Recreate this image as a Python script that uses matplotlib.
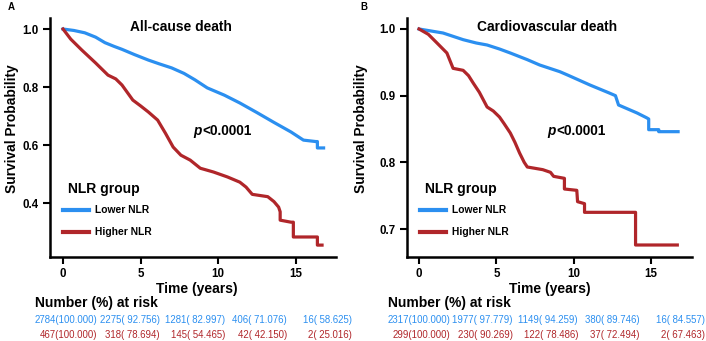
import matplotlib
matplotlib.use("Agg")
import matplotlib.pyplot as plt

plt.rcParams['font.family'] = ['Liberation Sans', 'DejaVu Sans']

BLUE = "#2b8ff0"
RED = "#b0262a"

# Panel A: all-cause death (time in years, survival probability)
# repeated times mark the visible vertical drops of the KM curves
a_low_t = [0, 0.7, 1.4, 2.1, 2.7, 3.3, 3.8, 4.6, 5.5, 6.2, 7.0, 7.8, 8.5, 9.3, 10.4,
           11.4, 12.5, 13.6, 14.7, 15.5, 16.3, 16.4, 16.4, 16.8]
a_low_s = [1.0, 0.995, 0.987, 0.972, 0.953, 0.940, 0.930, 0.912, 0.893, 0.880, 0.866,
           0.847, 0.825, 0.797, 0.772, 0.745, 0.712, 0.678, 0.645, 0.617, 0.612, 0.612,
           0.590, 0.590]
a_high_t = [0, 0.5, 1.2, 2.1, 2.9, 3.4, 3.8, 4.5, 5.0, 5.5, 6.1, 6.6, 7.1, 7.6, 8.2, 8.85,
            9.7, 10.6, 11.4, 11.8, 12.2, 13.2, 13.6, 13.9, 14.0, 14.0, 14.7, 14.85, 14.85,
            16.4, 16.4, 16.7]
a_high_s = [1.0, 0.965, 0.928, 0.883, 0.841, 0.828, 0.807, 0.755, 0.735, 0.714, 0.686,
            0.641, 0.593, 0.565, 0.548, 0.520, 0.507, 0.490, 0.472, 0.455, 0.430, 0.422,
            0.405, 0.386, 0.370, 0.341, 0.334, 0.334, 0.283, 0.283, 0.255, 0.255]

# Panel B: cardiovascular death
b_low_t = [0, 1.55, 2.85, 3.7, 4.4, 5.2, 5.9, 7.0, 7.8, 9.1, 9.6, 11.05, 12.3, 12.7, 12.9,
           14.1, 14.7, 14.85, 14.85, 15.5, 15.5, 16.75]
b_low_s = [1.0, 0.994, 0.984, 0.979, 0.976, 0.970, 0.964, 0.954, 0.946, 0.936, 0.931,
           0.916, 0.904, 0.900, 0.886, 0.874, 0.867, 0.865, 0.849, 0.849, 0.846, 0.846]
b_high_t = [0, 0.6, 1.16, 1.8, 2.2, 2.85, 3.2, 3.5, 3.9, 4.4, 4.8, 5.2, 5.5, 5.9, 6.2,
            6.5, 6.8, 7.0, 8.0, 8.5, 8.7, 9.4, 9.4, 10.2, 10.25, 10.7, 10.7, 14.0, 14.0,
            16.7]
b_high_s = [1.0, 0.992, 0.979, 0.964, 0.941, 0.938, 0.930, 0.919, 0.905, 0.883, 0.877,
            0.868, 0.858, 0.844, 0.830, 0.814, 0.800, 0.793, 0.789, 0.785, 0.779, 0.776,
            0.760, 0.758, 0.741, 0.738, 0.725, 0.725, 0.676, 0.676]

# number (%) at risk
a_low_n = [2784, 2275, 1281, 406, 16]
a_low_p = [100.000, 92.756, 82.997, 71.076, 58.625]
a_high_n = [467, 318, 145, 42, 2]
a_high_p = [100.000, 78.694, 54.465, 42.150, 25.016]
b_low_n = [2317, 1977, 1149, 380, 16]
b_low_p = [100.000, 97.779, 94.259, 89.746, 84.557]
b_high_n = [299, 230, 122, 37, 2]
b_high_p = [100.000, 90.269, 78.486, 72.494, 67.463]

W, H = 706, 341
fig = plt.figure(figsize=(W / 100, H / 100), dpi=100)


def fx(x):
    return x / W


def fy(y):
    return 1 - y / H


def panel(x0, x1, ylim, yticks, xlim, title, letter, curves, risk, dx, title_x, p_x, ylab_x):
    ax = fig.add_axes([fx(x0), fy(257), fx(x1 - x0), (257 - 18) / H])
    for t, s, c in curves:
        ax.plot(t, s, color=c, lw=2.3)
    ax.set_xlim(*xlim)
    ax.set_ylim(*ylim)
    ax.set_xticks([0, 5, 10, 15])
    ax.set_yticks(yticks)
    ax.set_yticklabels([f"{v:.1f}" for v in yticks])
    for s in ['top', 'right']:
        ax.spines[s].set_visible(False)
    for s in ['left', 'bottom']:
        ax.spines[s].set_linewidth(1.8)
    ax.tick_params(direction='out', length=5, width=1.5, pad=3, labelsize=8.3)
    for lab in ax.get_xticklabels() + ax.get_yticklabels():
        lab.set_fontweight('bold')

    bold = dict(fontweight='bold')
    fig.text(fx(dx + 11), fy(6.5), letter, fontsize=7, ha='center', va='center', **bold)
    fig.text(fx(title_x), fy(27), title, fontsize=9.9, ha='center', va='center', **bold)
    # p value: italic p followed by the rest
    fig.text(fx(p_x - 20.5), fy(131), "p", fontsize=9.8, style='italic',
             ha='right', va='center', **bold)
    fig.text(fx(p_x - 20.5), fy(131), "<0.0001", fontsize=9.8,
             ha='left', va='center', **bold)
    fig.text(fx(ylab_x), fy(129), "Survival Probability", fontsize=9.9, rotation=90,
             ha='center', va='center', **bold)
    fig.text(fx(dx + 197), fy(289), "Time (years)", fontsize=10, ha='center',
             va='center', **bold)
    fig.text(fx(dx + 35), fy(303), "Number (%) at risk", fontsize=10, ha='left',
             va='center', **bold)
    fig.text(fx(x0 + 18), fy(189), "NLR group", fontsize=10, ha='left', va='center', **bold)
    for (lab, c, y) in [("Lower NLR", BLUE, 210), ("Higher NLR", RED, 232)]:
        fig.add_artist(plt.Line2D([fx(x0 + 13), fx(x0 + 39)], [fy(y), fy(y)],
                                  color=c, lw=3))
        fig.text(fx(x0 + 45), fy(y), lab, fontsize=7.4, ha='left', va='center', **bold)

    ends = [97, 160, 225, 287, 352]
    for (ns, ps, c, y) in risk:
        for e, n, p in zip(ends, ns, ps):
            fig.text(fx(dx + e), fy(y), f"{n}({p:7.3f})", fontsize=6.9, color=c,
                     ha='right', va='center')
    return ax


panel(50, 336, (0.214, 1.038), [0.4, 0.6, 0.8, 1.0], (-0.84, 17.6),
      "All-cause death", "A",
      [(a_low_t, a_low_s, BLUE), (a_high_t, a_high_s, RED)],
      [(a_low_n, a_low_p, BLUE, 320), (a_high_n, a_high_p, RED, 335.5)], 0,
      180.5, 222.5, 12)

panel(407, 692, (0.658, 1.0165), [0.7, 0.8, 0.9, 1.0], (-0.78, 17.65),
      "Cardiovascular death", "B",
      [(b_low_t, b_low_s, BLUE), (b_high_t, b_high_s, RED)],
      [(b_low_n, b_low_p, BLUE, 320), (b_high_n, b_high_p, RED, 335.5)], 353,
      547.5, 576.5, 361)

fig.savefig("out.png", dpi=100)
